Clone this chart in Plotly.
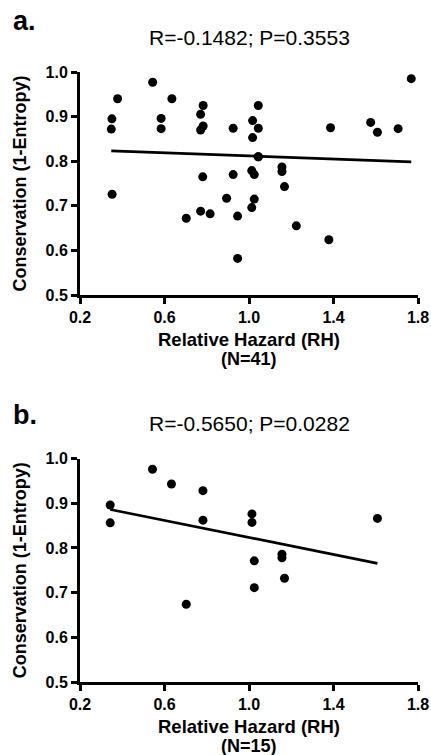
import numpy as np
import plotly.graph_objects as go

# Panel a data (N=41)
rh_a = [0.351, 0.348, 0.378, 0.544, 0.584, 0.584, 0.635, 0.783, 0.771, 0.783, 0.771,
        0.925, 1.017, 1.044, 1.044, 1.017, 1.044, 1.386, 1.576, 1.608, 1.706, 1.768,
        0.352, 0.781, 0.703, 0.771, 0.816, 0.925, 0.894, 0.946, 0.946, 1.013, 1.025,
        1.025, 1.013, 1.156, 1.156, 1.168, 1.224, 1.378, 1.044]
cons_a = [0.895, 0.872, 0.940, 0.977, 0.896, 0.873, 0.940, 0.925, 0.905, 0.879, 0.870,
          0.874, 0.891, 0.925, 0.874, 0.853, 0.810, 0.875, 0.887, 0.865, 0.873, 0.985,
          0.726, 0.765, 0.672, 0.688, 0.682, 0.770, 0.717, 0.677, 0.582, 0.779, 0.770,
          0.715, 0.696, 0.787, 0.777, 0.743, 0.655, 0.624, 0.810]

# Panel b data (N=15)
rh_b = [0.343, 0.343, 0.543, 0.633, 0.782, 0.782, 1.014, 1.014, 1.608,
        1.025, 1.025, 1.156, 1.156, 1.168, 0.703]
cons_b = [0.896, 0.856, 0.976, 0.943, 0.928, 0.862, 0.876, 0.857, 0.866,
          0.771, 0.711, 0.786, 0.778, 0.732, 0.674]

titles = ["R=-0.1482; P=0.3553", "R=-0.5650; P=0.0282"]
labels = ["a.", "b."]
n_labels = ["(N=41)", "(N=15)"]
x_ticks = [0.2, 0.6, 1.0, 1.4, 1.8]
y_ticks = [0.5, 0.6, 0.7, 0.8, 0.9, 1.0]

W, H = 431, 755
FONT = "Liberation Sans, Arial, sans-serif"

def py(y):
    return (H - y) / H

def px(x):
    return x / W

# plot boxes in pixels: (left, right, top, bottom)
boxes = [(80, 418, 72, 295), (80, 418, 458.5, 682)]

fig = go.Figure()
datasets = [(rh_a, cons_a), (rh_b, cons_b)]
annotations = []
for i, ((xs, ys), (l, r, t, b)) in enumerate(zip(datasets, boxes)):
    xa = "x" if i == 0 else "x2"
    ya = "y" if i == 0 else "y2"
    xs = np.array(xs)
    ys = np.array(ys)
    slope, intercept = np.polyfit(xs, ys, 1)
    lx = np.array([xs.min(), xs.max()])
    fig.add_trace(go.Scatter(x=lx, y=slope * lx + intercept, mode="lines",
                             line=dict(color="black", width=2.7),
                             xaxis=xa, yaxis=ya, showlegend=False, hoverinfo="skip"))
    fig.add_trace(go.Scatter(x=xs, y=ys, mode="markers",
                             marker=dict(color="black", size=9),
                             xaxis=xa, yaxis=ya, showlegend=False, cliponaxis=False))
    axis_common = dict(showline=True, linewidth=3, linecolor="black", ticks="outside",
                       ticklen=6, tickwidth=2.5, tickcolor="black", showgrid=False,
                       zeroline=False, tickformat=".1f", automargin=False,
                       tickfont=dict(family=FONT, size=16, color="black", weight="bold"))
    xkey = "xaxis" if i == 0 else "xaxis2"
    ykey = "yaxis" if i == 0 else "yaxis2"
    fig.layout[xkey] = dict(axis_common, range=[0.2, 1.8], tickvals=x_ticks,
                            domain=[px(l), px(r)], anchor=ya)
    fig.layout[ykey] = dict(axis_common, range=[0.5, 1.0], tickvals=y_ticks,
                            domain=[py(b), py(t)], anchor=xa)
    cx = (l + r) / 2
    annotations += [
        dict(text=labels[i], x=px(11), y=py(t - 51 + (0 if i == 0 else 7)), xref="paper", yref="paper",
             xanchor="left", yanchor="middle", showarrow=False,
             font=dict(family=FONT, size=27, color="black", weight="bold")),
        dict(text=titles[i], x=px(cx), y=py(t - 35), xref="paper", yref="paper",
             xanchor="center", yanchor="middle", showarrow=False,
             font=dict(family=FONT, size=21, color="black")),
        dict(text="Relative Hazard (RH)", x=px(cx), y=py(b + 44), xref="paper", yref="paper",
             xanchor="center", yanchor="middle", showarrow=False,
             font=dict(family=FONT, size=18.5, color="black", weight="bold")),
        dict(text=n_labels[i], x=px(cx), y=py(b + 64), xref="paper", yref="paper",
             xanchor="center", yanchor="middle", showarrow=False,
             font=dict(family=FONT, size=18, color="black", weight="bold")),
        dict(text="Conservation (1-Entropy)", x=px(20), y=py((t + b) / 2), xref="paper",
             yref="paper", xanchor="center", yanchor="middle", showarrow=False, textangle=-90,
             font=dict(family=FONT, size=18, color="black", weight="bold")),
    ]

fig.update_layout(width=W, height=H, margin=dict(l=0, r=0, t=0, b=0, autoexpand=False),
                  paper_bgcolor="white", plot_bgcolor="white",
                  annotations=annotations, showlegend=False)
fig.write_html("out.html", config={"displayModeBar": False},
               post_script="document.body.style.margin='0';document.body.style.overflow='hidden';")
